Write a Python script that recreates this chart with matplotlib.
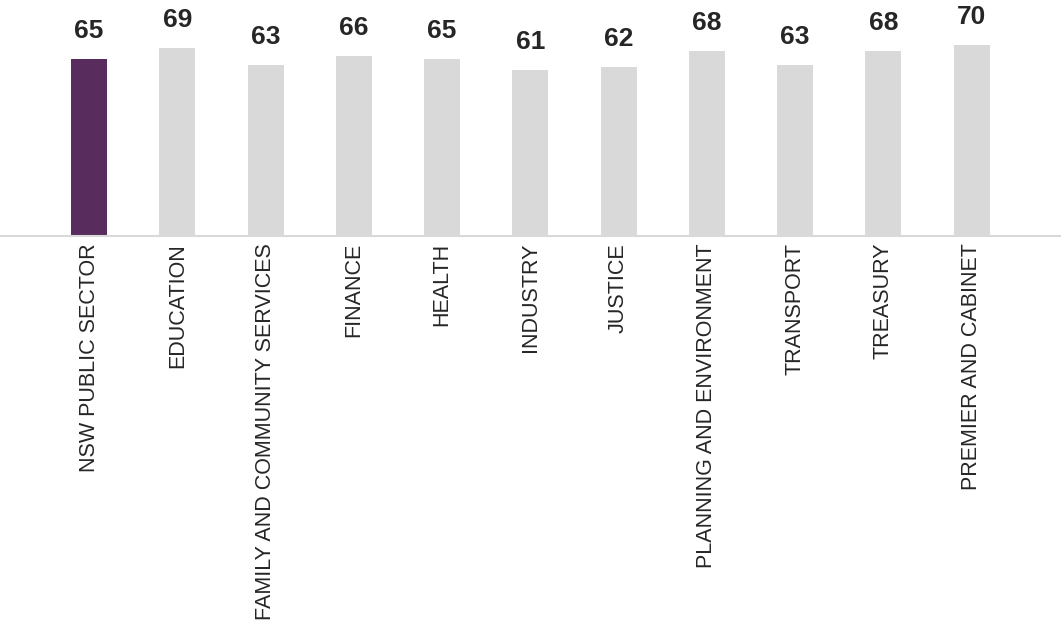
import matplotlib
matplotlib.use("Agg")
import matplotlib.pyplot as plt

# survey scores by cluster
clusters = ["NSW PUBLIC SECTOR", "EDUCATION", "FAMILY AND COMMUNITY SERVICES",
            "FINANCE", "HEALTH", "INDUSTRY", "JUSTICE",
            "PLANNING AND ENVIRONMENT", "TRANSPORT", "TREASURY",
            "PREMIER AND CABINET"]
scores = [65, 69, 63, 66, 65, 61, 62, 68, 63, 68, 70]

highlight = "#582c5c"
grey = "#d9d9d9"
colors = [highlight] + [grey] * (len(scores) - 1)

plt.rcParams["font.family"] = ["Liberation Sans", "DejaVu Sans"]

fig = plt.figure(figsize=(10.61, 6.24), dpi=100)
ax = fig.add_axes([0, 0.6218, 1, 0.3782])

x = list(range(len(scores)))
bars = ax.bar(x, scores, width=0.408, color=colors)

for b, v in zip(bars, scores):
    ax.annotate(str(v), (b.get_x() + b.get_width() / 2, v),
                xytext=(0, 11.5), textcoords="offset points",
                ha="center", va="bottom", fontsize=19, fontweight="bold",
                color="#262626")

ax.set_xlim(-1.0085, 11.014)
ax.set_ylim(0, 86.7)
ax.set_xticks(x)
ax.set_xticklabels(clusters, rotation=90, fontsize=15.5, color="#262626")
ax.tick_params(axis="x", length=0, pad=5)
ax.set_yticks([])
for s in ["top", "left", "right"]:
    ax.spines[s].set_visible(False)
ax.spines["bottom"].set_color(grey)
ax.spines["bottom"].set_linewidth(1.5)

fig.savefig("out.png", dpi=100)
